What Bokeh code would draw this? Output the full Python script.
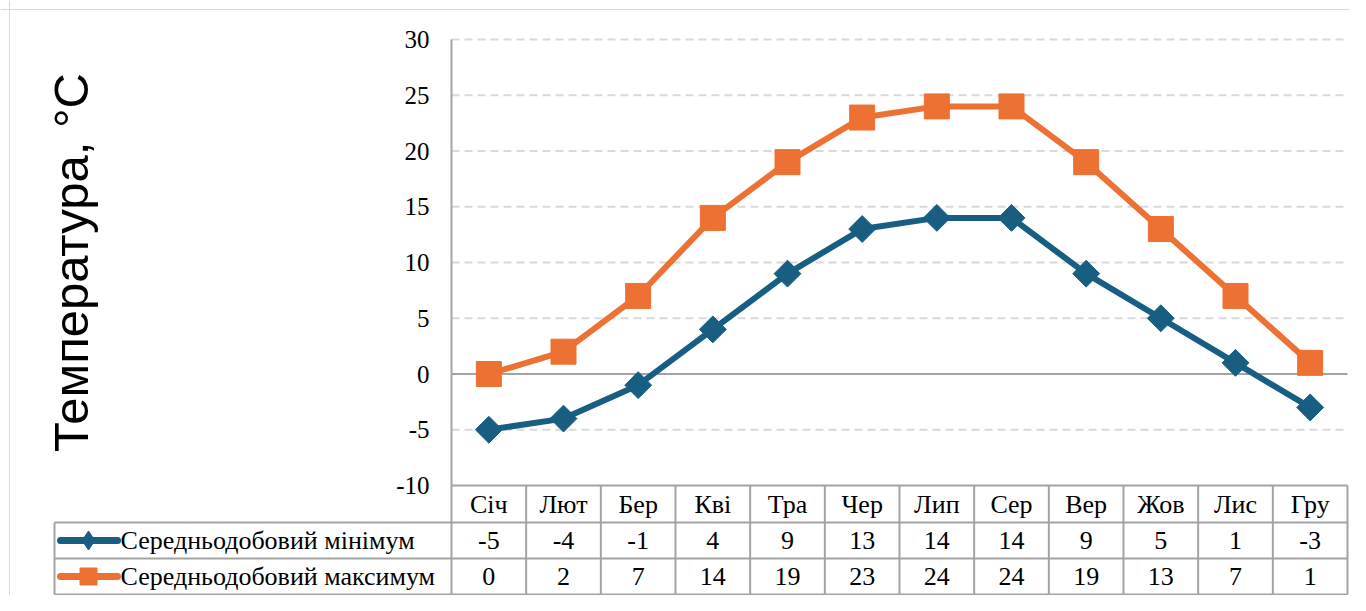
import numpy as np
from bokeh.plotting import figure
from bokeh.models import Range1d, LinearAxis, FixedTicker, Span, NumeralTickFormatter
from bokeh.core.properties import value
from bokeh.embed import file_html
from bokeh.resources import INLINE

# ---------------- data ----------------
months = ["Січ", "Лют", "Бер", "Кві", "Тра", "Чер", "Лип", "Сер", "Вер", "Жов", "Лис", "Гру"]
t_min = [-5, -4, -1, 4, 9, 13, 14, 14, 9, 5, 1, -3]
t_max = [0, 2, 7, 14, 19, 23, 24, 24, 19, 13, 7, 1]
series_names = ["Середньодобовий мінімум", "Середньодобовий максимум"]
y_ticks = [-10, -5, 0, 5, 10, 15, 20, 25, 30]
y_title = "Температура, °C"

# ---------------- layout (canvas px) ----------------
W, H = 1350, 595
AXIS_PX = 451            # canvas x of the value axis
COL_W = 896 / 12         # width of one category column
TOP_PX = 39              # canvas y of the top tick
UNIT_PX = 55.75 / 5      # px per degree
ROW_PX = [522, 558, 594]  # table row boundaries below the header
LEG_LEFT_PX = 54
BLUE = "#185E83"
ORANGE = "#EC7132"
GRID = "#D9D9D9"
TABLE = "#A3A3A3"
SERIF = "Liberation Serif"
TXT = "26px"


def dx(px):
    return (px - AXIS_PX) / COL_W - 0.5


def dy(py):
    return y_ticks[-1] - (py - TOP_PX) / UNIT_PX


ymin_tick = y_ticks[0]
y_r1, y_r2, y_r3 = [dy(v) for v in ROW_PX]
row_hdr = (ymin_tick + y_r1) / 2
row_1 = (y_r1 + y_r2) / 2
row_2 = (y_r2 + y_r3) / 2
ncat = len(months)
xs = list(range(ncat))
x_lo, x_hi = -0.5, ncat - 0.5
leg_x0 = dx(LEG_LEFT_PX)

p = figure(width=W, height=H, output_backend="svg", toolbar_location=None,
           x_range=Range1d(dx(0), dx(W)), y_range=Range1d(dy(H), dy(0)),
           x_axis_type=None, y_axis_type=None,
           min_border_left=0, min_border_right=0, min_border_top=0, min_border_bottom=0)
p.outline_line_color = None
p.background_fill_color = "white"
p.border_fill_color = "white"

# chart border (top / left)
p.add_layout(Span(location=dy(9), dimension="width", line_color=GRID, line_width=1))
p.add_layout(Span(location=dx(9), dimension="height", line_color=GRID, line_width=1))

# gridlines
dash_y = [t for t in y_ticks if t not in (0, ymin_tick)]
p.segment(x0=[x_lo] * len(dash_y), x1=[x_hi] * len(dash_y), y0=dash_y, y1=dash_y,
          line_color=GRID, line_width=2, line_dash="8 5")
p.segment(x0=[x_lo], x1=[x_hi], y0=[0], y1=[0], line_color=TABLE, line_width=2)

# data table lines
hx0 = [x_lo, leg_x0, leg_x0, leg_x0]
hy = [ymin_tick, y_r1, y_r2, y_r3]
p.segment(x0=hx0, x1=[x_hi] * 4, y0=hy, y1=hy, line_color=TABLE, line_width=2)
vx = [x_lo + k for k in range(0, ncat + 1)]
p.segment(x0=vx, x1=vx, y0=[y_r3] * len(vx), y1=[ymin_tick] * len(vx), line_color=TABLE, line_width=2)
p.segment(x0=[leg_x0], x1=[leg_x0], y0=[y_r3], y1=[y_r1], line_color=TABLE, line_width=2)

# series
p.line(xs, t_min, line_color=BLUE, line_width=6)
p.scatter(xs, t_min, marker="square", size=19, angle=np.pi / 4, color=BLUE)
p.line(xs, t_max, line_color=ORANGE, line_width=6)
p.scatter(xs, t_max, marker="square", size=25, color=ORANGE)

# legend keys inside the table
kx0, kx1, kxm = dx(60), dx(117), dx(88)
p.line([kx0, kx1], [row_1, row_1], line_color=BLUE, line_width=7, line_cap="round")
p.scatter([kxm], [row_1], marker="diamond", size=19, color=BLUE)
p.line([kx0, kx1], [row_2, row_2], line_color=ORANGE, line_width=7, line_cap="round")
p.scatter([kxm], [row_2], marker="square", size=17, color=ORANGE)
p.text(x=[dx(120)] * 2, y=[row_1, row_2], text=series_names, text_align="left",
       text_baseline="middle", text_font=value(SERIF), text_font_size=TXT, text_color="black")

# table texts
p.text(x=xs, y=[row_hdr] * ncat, text=months, text_align="center", text_baseline="middle",
       text_font=value(SERIF), text_font_size=TXT, text_color="black")
p.text(x=xs, y=[row_1] * ncat, text=[str(v) for v in t_min], text_align="center", text_baseline="middle",
       text_font=value(SERIF), text_font_size=TXT, text_color="black")
p.text(x=xs, y=[row_2] * ncat, text=[str(v) for v in t_max], text_align="center", text_baseline="middle",
       text_font=value(SERIF), text_font_size=TXT, text_color="black")

# value axis
yax = LinearAxis(ticker=FixedTicker(ticks=y_ticks), fixed_location=x_lo,
                 bounds=(ymin_tick, y_ticks[-1]),
                 formatter=NumeralTickFormatter(format="0"),
                 axis_line_color=TABLE, axis_line_width=2,
                 major_tick_in=0, major_tick_out=0, minor_tick_in=0, minor_tick_out=0,
                 major_label_standoff=22, major_label_text_font=SERIF,
                 major_label_text_font_size="25px", major_label_text_color="black",
                 axis_label=y_title, axis_label_text_font="Liberation Sans",
                 axis_label_text_font_size="49px", axis_label_text_font_style="normal",
                 axis_label_text_color="black", axis_label_standoff=295)
p.add_layout(yax, "left")

open("out.html", "w").write(file_html(p, INLINE))
